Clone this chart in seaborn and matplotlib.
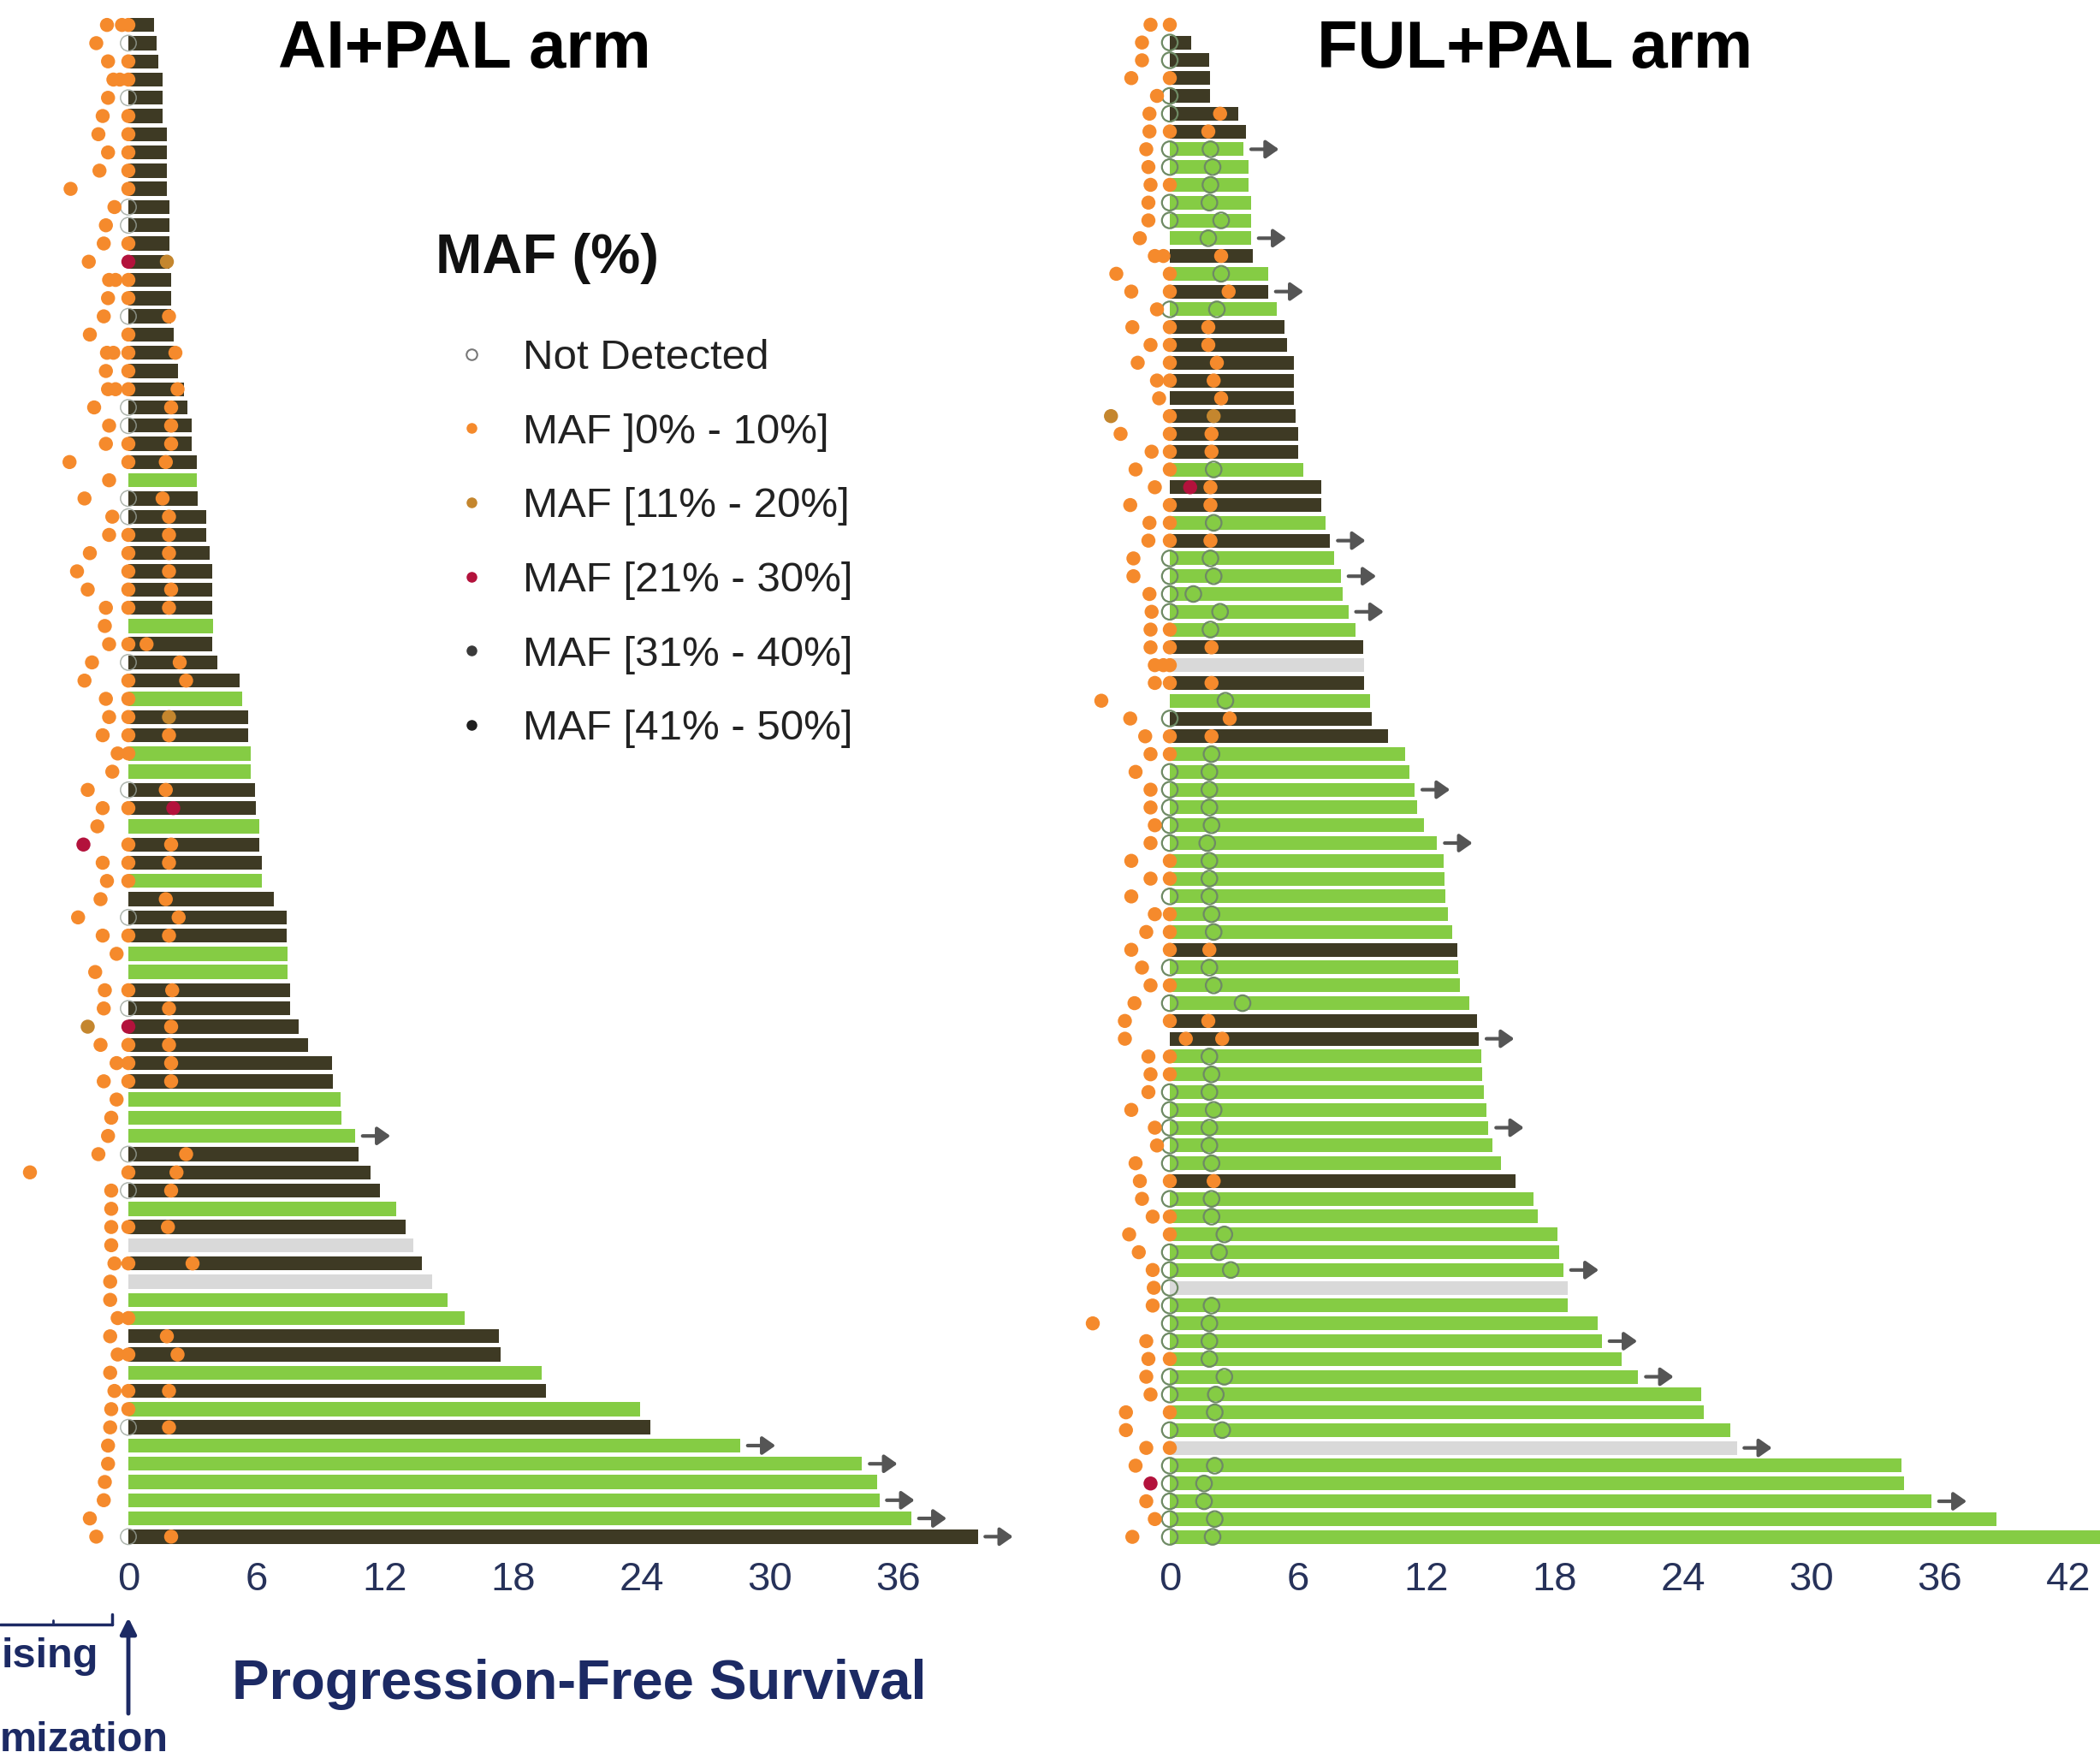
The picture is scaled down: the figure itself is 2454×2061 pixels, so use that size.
import numpy as np
import pandas as pd
import matplotlib.pyplot as plt
from matplotlib.lines import Line2D
import seaborn as sns

N = None

# ── AI+PAL arm: one row per patient, top row = shortest PFS (months) ──
AI_PFS = [1.2, 1.3, 1.4, 1.6, 1.6, 1.6, 1.8, 1.8, 1.8, 1.8,
          1.9, 1.9, 1.9, 1.9, 2.0, 2.0, 2.0, 2.1, 2.2, 2.3,
          2.6, 2.75, 2.95, 2.95, 3.2, 3.2, 3.25, 3.65, 3.65, 3.8,
          3.9, 3.9, 3.9, 3.95, 3.9, 4.15, 5.2, 5.3, 5.6, 5.6,
          5.7, 5.7, 5.9, 5.95, 6.1, 6.1, 6.25, 6.25, 6.8, 7.4,
          7.4, 7.45, 7.45, 7.55, 7.55, 7.95, 8.4, 9.5, 9.55, 9.9,
          9.95, 10.6, 10.75, 11.3, 11.75, 12.5, 12.95, 13.3, 13.7, 14.2,
          14.9, 15.7, 17.3, 17.4, 19.3, 19.5, 23.9, 24.4, 28.6, 34.3,
          35.0, 35.1, 36.6, 39.7]
# D = progression (dark), G = no progression (green), L = grey
AI_STATUS = ("DDDDDDDDDD DDDDDDDDDD DDDDDGDDDD DDDGDDDGDD GGDDGDDGDD "
             "DGGDDDDDDG GGDDDGDLDL GGDDGDGDGG GGGD")
AI_ARROWS = [62, 79, 80, 82, 83, 84]
AI_PRE_X = [-1.0, -1.5, -0.95, -0.7, -0.95, -1.2, -1.4, -0.95, -1.35, -2.7,
            -0.65, -1.05, -1.15, -1.85, -0.6, -0.95, -1.15, -1.8, -0.7, -1.05,
            -0.6, -1.6, -0.9, -1.05, -2.75, -0.9, -2.05, -0.75, -0.9, -1.8,
            -2.4, -1.9, -1.05, -1.1, -0.9, -1.7, -2.05, -1.05, -0.9, -1.2,
            -0.5, -0.75, -1.9, -1.2, -1.45, -2.1, -1.2, -1.0, -1.3, -2.35,
            -1.2, -0.55, -1.55, -1.1, -1.15, -1.9, -1.3, -0.55, -1.15, -0.55,
            -0.8, -0.95, -1.4, -4.6, -0.8, -0.8, -0.8, -0.8, -0.65, -0.85,
            -0.85, -0.5, -0.85, -0.5, -0.85, -0.65, -0.8, -0.85, -0.95, -0.95,
            -1.1, -1.15, -1.8, -1.5]
# MAF class: 0 = not detected, 1 = ]0-10], 2 = [11-20], 3 = [21-30], - = no sample
AI_PRE_MAF = ("1111111111 1111111111 1111111111 1111111111 1111131111 "
              "1111121111 1111111111 1111111111 1111")
AI_BASE_MAF = ("1011011111 0013110111 10011-0011 111-101111 1-01-111-0 "
               "1--103111- --010-1-1- -1-1-110-- ---0")
AI_M2_X = [N, N, N, N, N, N, N, N, N, N,
           N, N, N, 1.8, N, N, 1.9, N, 2.2, N,
           2.3, 2.0, 2.0, 2.0, 1.75, N, 1.6, 1.9, 1.9, 1.9,
           1.9, 2.0, 1.9, N, 0.85, 2.4, 2.7, N, 1.9, 1.9,
           N, N, 1.75, 2.1, N, 2.0, 1.9, N, 1.75, 2.35,
           1.9, N, N, 2.05, 1.9, 2.0, 1.9, 2.0, 2.0, N,
           N, N, 2.7, 2.25, 2.0, N, 1.85, N, 3.0, N,
           N, N, 1.8, 2.3, N, 1.9, N, 1.9, N, N,
           N, N, N, 2.0]
AI_M2_MAF = ("---------- ---2--1-1- 11111-1111 111-111-21 --13-11-11 "
             "1--111111- --111-1-1- --11-1-1-- ---1")
AI_EXTRA = [(1, -0.3, "1"), (4, -0.4, "1"), (15, -0.9, "1"),
            (19, -1.0, "1"), (21, -0.95, "1")]

# ── FUL+PAL arm ──────────────────────────────────────────────────────
FUL_PFS = [0.0, 1.0, 1.85, 1.9, 1.9, 3.2, 3.55, 3.45, 3.7, 3.7,
           3.8, 3.8, 3.8, 3.9, 4.6, 4.6, 5.0, 5.35, 5.5, 5.8,
           5.8, 5.8, 5.9, 6.0, 6.0, 6.25, 7.1, 7.1, 7.3, 7.5,
           7.7, 8.0, 8.1, 8.35, 8.7, 9.05, 9.1, 9.1, 9.35, 9.45,
           10.2, 11.0, 11.2, 11.45, 11.55, 11.9, 12.5, 12.8, 12.85, 12.9,
           13.0, 13.2, 13.45, 13.5, 13.55, 14.0, 14.35, 14.45, 14.55, 14.6,
           14.7, 14.8, 14.9, 15.1, 15.5, 16.15, 17.0, 17.2, 18.1, 18.2,
           18.4, 18.6, 18.6, 20.0, 20.2, 21.1, 21.9, 24.85, 24.95, 26.2,
           26.5, 34.2, 34.3, 35.6, 38.65, 44.0]
FUL_STATUS = ("DDDDDDDGGG GGGDGDGDDD DDDDDGDDGD GGGGGDLDGD DGGGGGGGGG "
              "GGDGGGDDGG GGGGGDGGGG GLGGGGGGGG LGGGGG")
FUL_ARROWS = [8, 13, 16, 30, 32, 34, 44, 47, 58, 63, 71, 75, 77, 81, 84]
FUL_PRE_X = [-0.9, -1.3, -1.3, -1.8, -0.6, -0.95, -0.95, -1.1, -1.0, -0.9,
             -1.0, -1.0, -1.4, -0.7, -2.5, -1.8, -0.6, -1.75, -0.9, -1.5,
             -0.6, -0.5, -2.75, -2.3, -0.85, -1.6, -0.7, -1.85, -0.95, -1.0,
             -1.7, -1.7, -0.95, -0.85, -0.9, -0.9, -0.7, -0.7, -3.2, -1.85,
             -1.15, -0.9, -1.6, -0.9, -0.9, -0.7, -0.9, -1.8, -0.9, -1.8,
             -0.7, -1.1, -1.8, -1.3, -0.9, -1.65, -2.1, -2.1, -1.0, -0.9,
             -1.0, -1.8, -0.7, -0.6, -1.6, -1.4, -1.3, -0.8, -1.9, -1.45,
             -0.8, -0.75, -0.8, -3.6, -1.1, -1.0, -1.1, -0.9, -2.05, -2.05,
             -1.1, -1.6, -0.9, -1.1, -0.7, -1.75]
FUL_PRE_MAF = ("1111111111 1111111111 1121111111 1111111111 1111111111 "
               "1111111111 1111111111 1111111111 113111")
FUL_BASE_MAF = ("1001001001 00--110111 1-1111-111 00001111-0 1100000110 "
                "1110101-11 0000010110 0000010010 100000")
FUL_M2_X = [N, N, N, N, N, 2.35, 1.8, 1.9, 2.0, 1.9,
            1.85, 2.4, 1.8, 2.4, 2.4, 2.75, 2.2, 1.8, 1.8, 2.2,
            2.05, 2.4, 2.05, 1.95, 1.95, 2.05, 1.9, 1.9, 2.05, 1.9,
            1.9, 2.05, 1.1, 2.35, 1.9, 1.95, N, 1.95, 2.6, 2.8,
            1.95, 1.95, 1.85, 1.85, 1.85, 1.95, 1.75, 1.85, 1.85, 1.85,
            1.95, 2.05, 1.85, 1.85, 2.05, 3.4, 1.8, 2.45, 1.85, 1.95,
            1.85, 2.05, 1.85, 1.85, 1.95, 2.05, 1.95, 1.95, 2.55, 2.3,
            2.85, N, 1.95, 1.85, 1.85, 1.85, 2.55, 2.15, 2.1, 2.45,
            N, 2.1, 1.6, 1.6, 2.1, 2.0]
FUL_M2_MAF = ("-----11000 0001010111 1121101101 000001-101 1000000000 "
              "0010001100 0000010000 0-00000000 -00000")
FUL_EXTRA = [(14, -0.3, "1"), (27, 0.95, "3"), (37, -0.3, "1"), (58, 0.75, "1")]

LEGEND_TITLE = "MAF (%)"
LEGEND_LABELS = ["Not Detected", "MAF ]0% - 10%]", "MAF [11% - 20%]",
                 "MAF [21% - 30%]", "MAF [31% - 40%]", "MAF [41% - 50%]"]

# ── Colours ──────────────────────────────────────────────────────────
BAR_COLORS = {"D": "#3e3a24", "G": "#85cc44", "L": "#d9d9d9"}
MAF_COLORS = {"1": "#f58a2c", "2": "#c4862e", "3": "#b3123c",
              "4": "#3a3a3a", "5": "#1f1f1f"}
NAVY = "#1c2a64"

W, H = 2454, 2061
sns.set_style("white")
plt.rcParams["font.family"] = ["Liberation Sans", "DejaVu Sans"]

fig = plt.figure(figsize=(W / 100, H / 100), dpi=100)


def draw_arm(rect, pfs, status, arrows, pre_x, pre_maf, base_maf,
             m2_x, m2_maf, extra, xlim, xticks, hollow_style):
    status = status.replace(" ", "")
    pre_maf = pre_maf.replace(" ", "")
    base_maf = base_maf.replace(" ", "")
    m2_maf = m2_maf.replace(" ", "")
    n = len(pfs)
    ax = fig.add_axes(rect)

    bars = pd.DataFrame({"row": np.arange(n), "pfs": pfs, "status": list(status)})
    sns.barplot(data=bars, x="pfs", y="row", hue="status", palette=BAR_COLORS,
                orient="h", dodge=False, width=0.77, saturation=1,
                linewidth=0, errorbar=None, legend=False, ax=ax)

    rows = []
    for i in range(n):
        rows.append((i, pre_x[i], pre_maf[i]))
        if base_maf[i] != "-":
            rows.append((i, 0.0, base_maf[i]))
        if m2_maf[i] != "-":
            rows.append((i, m2_x[i], m2_maf[i]))
    for r, x, m in extra:
        rows.append((r - 1, x, m))
    dots = pd.DataFrame(rows, columns=["row", "x", "maf"])

    hollow = dots[dots["maf"] == "0"]
    ax.scatter(hollow["x"], hollow["row"], s=175, facecolors="none",
               zorder=3, **hollow_style)
    filled = dots[dots["maf"] != "0"]
    sns.scatterplot(data=filled, x="x", y="row", hue="maf", palette=MAF_COLORS,
                    s=140, linewidth=0, legend=False, zorder=4, ax=ax)

    for r in arrows:
        end = pfs[r - 1]
        ax.annotate("", xy=(end + 1.65, r - 1), xytext=(end + 0.35, r - 1),
                    arrowprops=dict(arrowstyle="-|>,head_length=0.5,head_width=0.35",
                                    color="#555555", lw=3, mutation_scale=18,
                                    shrinkA=0, shrinkB=0), zorder=4)

    ax.set_xlim(*xlim)
    ax.set_ylim(n - 0.5, -0.5)
    ax.set_xticks(xticks)
    ax.set_xticklabels([str(t) for t in xticks])
    ax.set_yticks([])
    ax.set_xlabel("")
    ax.set_ylabel("")
    for s in ax.spines.values():
        s.set_visible(False)
    ax.tick_params(axis="x", length=8, width=2, color="#444444",
                   labelsize=34, labelcolor="#27325a", pad=5)
    ax.patch.set_alpha(0)
    return ax


top_px, bot_px = 18.5, 1806
draw_arm([0, 1 - bot_px / H, 1200 / W, (bot_px - top_px) / H],
         AI_PFS, AI_STATUS, AI_ARROWS, AI_PRE_X, AI_PRE_MAF, AI_BASE_MAF,
         AI_M2_X, AI_M2_MAF, AI_EXTRA, (-6, 42), list(range(0, 37, 6)),
         dict(edgecolors="#9aa39a", linewidths=1.1, alpha=0.8))
draw_arm([1242 / W, 1 - bot_px / H, (W - 1242) / W, (bot_px - top_px) / H],
         FUL_PFS, FUL_STATUS, FUL_ARROWS, FUL_PRE_X, FUL_PRE_MAF, FUL_BASE_MAF,
         FUL_M2_X, FUL_M2_MAF, FUL_EXTRA, (-5, 43.48), list(range(0, 43, 6)),
         dict(edgecolors="#6e8a64", linewidths=1.6))

# ── Legend ───────────────────────────────────────────────────────────
handles = [Line2D([], [], ls="none", marker="o", ms=9, mfc="white",
                  mec="#777777", mew=1.5)]
for k in ["1", "2", "3", "4", "5"]:
    handles.append(Line2D([], [], ls="none", marker="o", ms=9,
                          mfc=MAF_COLORS[k], mec="none"))
leg = fig.legend(handles, LEGEND_LABELS, loc="upper left",
                 bbox_to_anchor=(509 / W, 1 - 396 / H), frameon=False,
                 fontsize=35.5, handlelength=1.72, handletextpad=0.34,
                 labelspacing=0.845, borderpad=0, borderaxespad=0)
for t in leg.get_texts():
    t.set_color("#222222")

# ── Overlay annotations (pixel coordinates) ──────────────────────────
ov = fig.add_axes([0, 0, 1, 1])
ov.set_xlim(0, W)
ov.set_ylim(H, 0)
ov.set_axis_off()
ov.text(509, 302, LEGEND_TITLE, ha="left", va="center", fontsize=47,
        fontweight="bold", color="#111111")
ov.text(543, 58, "AI+PAL arm", ha="center", va="center", fontsize=56,
        fontweight="bold", color="black")
ov.text(1794, 58, "FUL+PAL arm", ha="center", va="center", fontsize=56,
        fontweight="bold", color="black")
ov.text(677, 1968, "Progression-Free Survival", ha="center", va="center",
        fontsize=47, fontweight="bold", color=NAVY)
ov.text(2, 1936, "ising", ha="left", va="center", fontsize=35,
        fontweight="bold", color=NAVY)
ov.text(0, 2034, "mization", ha="left", va="center", fontsize=35,
        fontweight="bold", color=NAVY)
ov.annotate("", xy=(150, 1890), xytext=(150, 2002),
            arrowprops=dict(arrowstyle="-|>", color=NAVY, lw=3.5,
                            mutation_scale=28, shrinkA=0, shrinkB=0))
ov.plot([0, 131], [1898, 1898], color=NAVY, lw=2.5)
ov.plot([131, 131], [1886, 1898], color=NAVY, lw=2.5)
ov.plot([62, 62], [1893, 1898], color=NAVY, lw=2)

fig.savefig("out.png", dpi=100, facecolor="white")
